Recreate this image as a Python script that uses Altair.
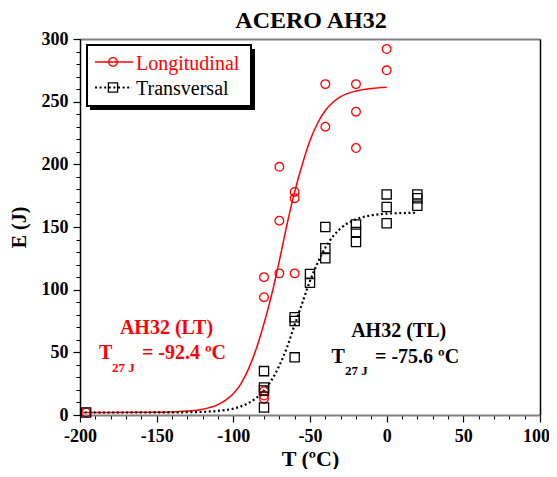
import altair as alt
import pandas as pd

# ---- measured Charpy energies ----
long_T = [-196, -80, -80, -80, -80, -80, -70, -70, -70, -60, -60, -60, -40, -40, -20, -20, -20, 0, 0]
long_E = [2, 110, 94, 19, 15.5, 13, 198, 155, 113, 178, 173, 113, 264, 230, 264, 242, 213, 292, 275]

trans_T = [-196, -80, -80, -80, -80, -60, -60, -60, -50, -50, -40, -40, -40, -20, -20, -20, 0, 0, 0, 20, 20, 20]
trans_E = [2, 35, 22, 19.5, 6, 78, 75, 46, 112.5, 105.5, 150, 133, 125, 152, 146, 138, 176, 166, 153, 176, 173, 167]

# ---- fitted curves ----
long_fit_T = [-198, -180, -160, -140, -130, -120, -110, -105, -100, -95, -90, -85, -80, -75, -70,
              -65, -60, -55, -50, -45, -40, -35, -30, -20, -10, 0]
long_fit_E = [2.0, 2.0, 2.1, 2.4, 3.1, 4.6, 8.3, 11.8, 16.9, 25, 37, 53, 73, 96, 123,
              152, 178, 200, 219, 233, 243, 249.5, 254, 258.5, 260.5, 261.5]

trans_fit_T = [-197, -180, -160, -140, -130, -120, -110, -100, -95, -90, -85, -80, -75, -70, -65,
               -60, -55, -50, -45, -40, -35, -30, -20, -10, 0, 10, 20]
trans_fit_E = [2.0, 2.0, 2.0, 2.1, 2.2, 2.5, 3.3, 5.1, 6.9, 9.6, 13.6, 19.5, 28.0, 39.4, 54.0,
               72, 89.5, 107, 121.4, 133.5, 142.5, 148.9, 156.2, 159.3, 160.6, 161.1, 161.4]

x_major = [-200, -150, -100, -50, 0, 50, 100]
x_minor = list(range(-200, 101, 10))
y_major = [0, 50, 100, 150, 200, 250, 300]
y_minor = list(range(0, 301, 10))

# annotations (data coordinates)
lt_head = pd.DataFrame({"T": [-143.6], "E": [64.5], "label": ["AH32 (LT)"]})
lt_main = pd.DataFrame({"T": [-187.6, -159.6], "E": [44.7, 44.7], "label": ["T", "= -92.4 ºC"]})
lt_sub = pd.DataFrame({"T": [-179.1], "E": [34.3], "label": ["27 J"]})
tl_head = pd.DataFrame({"T": [7.8], "E": [62.2], "label": ["AH32 (TL)"]})
tl_main = pd.DataFrame({"T": [-35.9, -7.6], "E": [41.5, 41.5], "label": ["T", "= -75.6 ºC"]})
tl_sub = pd.DataFrame({"T": [-27.2], "E": [31.9], "label": ["27 J"]})

RED = "#ff0000"
FONT = "Liberation Serif"
GRAY = "#808080"

df_l = pd.DataFrame({"T": long_T, "E": long_E})
df_t = pd.DataFrame({"T": trans_T, "E": trans_E})
df_lf = pd.DataFrame({"T": long_fit_T, "E": long_fit_E})
df_tf = pd.DataFrame({"T": trans_fit_T, "E": trans_fit_E})
one = pd.DataFrame({"a": [0]})

xs = alt.Scale(domain=[-200, 100], nice=False, zero=False)
ys = alt.Scale(domain=[0, 300], nice=False, zero=False)

# minor ticks axes
red_fit = alt.Chart(df_lf).mark_line(color=RED, strokeWidth=1.5, interpolate="monotone").encode(
    x=alt.X("T:Q", scale=xs, title=None,
            axis=alt.Axis(orient="bottom", values=x_minor, tickSize=4, tickWidth=1, tickColor="black",
                          labels=False, domain=False, grid=False)),
    y=alt.Y("E:Q", scale=ys, title=None,
            axis=alt.Axis(orient="left", values=y_minor, tickSize=4, tickWidth=1, tickColor="black",
                          labels=False, domain=False, grid=False)),
)

# major axes
black_fit = alt.Chart(df_tf).mark_line(color="black", strokeWidth=2.2, strokeDash=[2, 2.6],
                                       interpolate="monotone").encode(
    x=alt.X("T:Q", scale=xs, title="T (ºC)",
            axis=alt.Axis(orient="bottom", values=x_major, tickSize=7, tickWidth=1.2, tickColor="black",
                          labelExpr="datum.value + ''",
                          labelOffset={"condition": {"test": "datum.value === 100", "value": -4}, "value": 0},
                          labelFont=FONT, labelFontSize=18, labelFontWeight="bold", labelColor="black",
                          labelPadding=5, labelFlush=False, labelOverlap=False,
                          domainColor=GRAY, domainWidth=2, grid=False,
                          titleFont=FONT, titleFontSize=22, titleFontWeight="bold", titleColor="black",
                          titleY=50, titleBaseline="alphabetic")),
    y=alt.Y("E:Q", scale=ys, title="E (J)",
            axis=alt.Axis(orient="left", values=y_major, tickSize=7, tickWidth=1.2, tickColor="black",
                          labelExpr="datum.value + ''",
                          labelFont=FONT, labelFontSize=18, labelFontWeight="bold", labelColor="black",
                          labelPadding=5, labelFlush=False, labelOverlap=False,
                          domainColor="black", domainWidth=1.5, grid=False,
                          titleFont=FONT, titleFontSize=20, titleFontWeight="bold", titleColor="black",
                          titleX=-55, titleY=188, titleAngle=270, titleBaseline="alphabetic")),
)

# frame (top gray, right black)
red_pts = alt.Chart(df_l).mark_point(shape="circle", filled=False, color=RED, size=75,
                                     strokeWidth=1.3, opacity=1).encode(
    x=alt.X("T:Q", scale=xs, title=None,
            axis=alt.Axis(orient="top", ticks=False, labels=False, domainColor=GRAY, domainWidth=2, grid=False)),
    y=alt.Y("E:Q", scale=ys, title=None,
            axis=alt.Axis(orient="right", ticks=False, labels=False, domainColor="black", domainWidth=1.5,
                          grid=False)),
)

black_pts = alt.Chart(df_t).mark_point(shape="square", filled=False, color="black", size=85,
                                       strokeWidth=1.3, opacity=1).encode(
    x=alt.X("T:Q", scale=xs, axis=None),
    y=alt.Y("E:Q", scale=ys, axis=None),
)


def txt(df, color, size, align="left"):
    return alt.Chart(df).mark_text(font=FONT, fontSize=size, fontWeight="bold", color=color,
                                   align=align, baseline="alphabetic").encode(
        x=alt.X("T:Q", scale=xs, axis=None),
        y=alt.Y("E:Q", scale=ys, axis=None),
        text="label:N",
    )


ann = [
    txt(lt_head, RED, 20, "center"), txt(lt_main, RED, 20), txt(lt_sub, RED, 13),
    txt(tl_head, "black", 20, "center"), txt(tl_main, "black", 20), txt(tl_sub, "black", 13),
]

# chart title
title = alt.Chart(one).mark_text(text="ACERO AH32", font=FONT, fontSize=24, fontWeight="bold",
                                 color="black", align="center", baseline="alphabetic").encode(
    x=alt.value(231), y=alt.value(-11))

# legend box
shadow = alt.Chart(one).mark_rect(fill="black").encode(
    x=alt.value(10), x2=alt.value(175), y=alt.value(10), y2=alt.value(71))
box = alt.Chart(one).mark_rect(fill="white", stroke="black", strokeWidth=2).encode(
    x=alt.value(7), x2=alt.value(171), y=alt.value(6), y2=alt.value(67))
leg_l_line = alt.Chart(one).mark_rule(color=RED, strokeWidth=1.5).encode(
    x=alt.value(15), x2=alt.value(53), y=alt.value(23))
leg_l_pt = alt.Chart(one).mark_point(shape="circle", filled=False, color=RED, size=75, strokeWidth=1.3,
                                     opacity=1).encode(x=alt.value(33), y=alt.value(23))
leg_l_txt = alt.Chart(one).mark_text(text="Longitudinal", font=FONT, fontSize=20, color=RED,
                                     align="left", baseline="alphabetic").encode(
    x=alt.value(56), y=alt.value(31))
leg_t_line = alt.Chart(one).mark_rule(color="black", strokeWidth=2, strokeDash=[2, 2.6]).encode(
    x=alt.value(15), x2=alt.value(52), y=alt.value(48.5))
leg_t_pt = alt.Chart(one).mark_point(shape="square", filled=False, color="black", size=85, strokeWidth=1.3,
                                     opacity=1).encode(x=alt.value(33), y=alt.value(48.5))
leg_t_txt = alt.Chart(one).mark_text(text="Transversal", font=FONT, fontSize=20, color="black",
                                     align="left", baseline="alphabetic").encode(
    x=alt.value(56), y=alt.value(56))

chart = alt.layer(
    red_fit, black_fit, red_pts, black_pts, *ann, title,
    shadow, box, leg_l_line, leg_l_pt, leg_l_txt, leg_t_line, leg_t_pt, leg_t_txt,
).resolve_axis(
    x="independent", y="independent"
).properties(
    width=460, height=376,
    autosize=alt.AutoSizeParams(type="none"),
    padding={"left": 72, "top": 31, "right": 9, "bottom": 54},
).configure_view(strokeWidth=0).configure(background="white")

chart.save("out.html", embed_options={"renderer": "svg", "actions": False})
